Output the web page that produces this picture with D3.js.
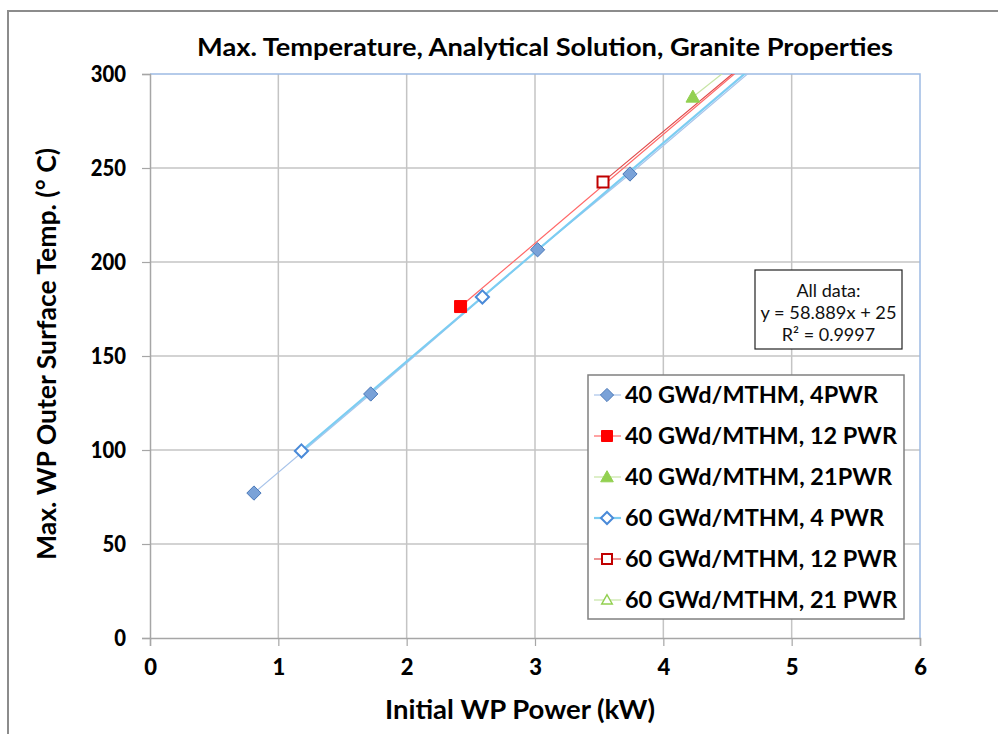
<!DOCTYPE html>
<html><head><meta charset="utf-8">
<script src="https://cdn.jsdelivr.net/npm/d3@7"></script>
<style>
body{margin:0;background:#fff;}
svg{display:block;font-family:Lato,"Open Sans",sans-serif;}
</style></head>
<body><svg id="c" width="998" height="734"></svg>
<script>
// ---- data ----
const title = "Max. Temperature, Analytical Solution, Granite Properties";
const xLabel = "Initial WP Power (kW)";
const yLabel = "Max. WP Outer Surface Temp. (° C)";
const xTicks = [0,1,2,3,4,5,6];
const yTicks = [0,50,100,150,200,250,300];
const seriesNames = ["40 GWd/MTHM, 4PWR","40 GWd/MTHM, 12 PWR","40 GWd/MTHM, 21PWR","60 GWd/MTHM, 4 PWR","60 GWd/MTHM, 12 PWR","60 GWd/MTHM, 21 PWR"];
// points above 300 lie outside the axis range and are clipped, as in the original
const s40_4  = [[0.81,77.1],[1.72,129.8],[3.02,206.5],[3.74,246.8],[5.0,320.0]];
const s40_12 = [[2.42,176.3],[5.0,325.9]];
const s40_21 = [[4.23,287.8],[5.0,329.4]];
const s60_4  = [[1.18,99.5],[2.59,181.4],[5.0,321.4]];
const s60_12 = [[3.53,242.6],[5.0,326.4]];
const s60_21 = [[5.0,331.0],[5.5,358.0]];
const fitText = ["All data:","y = 58.889x + 25","R² = 0.9997"];

// ---- styles ----
const styles = [
  {data:s40_4,  sym:"diamond", fill:"#7aa2d8", stroke:"#4a78b8", line:"#a8c4ea", lw:1.2, size:13},
  {data:s40_12, sym:"square",  fill:"#ff0000", stroke:"#ff0000", line:"#ff6666", lw:1.2, size:12},
  {data:s40_21, sym:"triangle",fill:"#92d050", stroke:"#92d050", line:"#c6e4a4", lw:1.2, size:13},
  {data:s60_4,  sym:"diamond", fill:"#ffffff", stroke:"#4a8ad8", line:"#7ccdf2", lw:2.2, size:12, sw:2},
  {data:s60_12, sym:"square",  fill:"#ffffff", stroke:"#c00000", line:"#e04848", lw:1.2, size:11, sw:2},
  {data:s60_21, sym:"triangle",fill:"#ffffff", stroke:"#92d050", line:"#c6e4a4", lw:1.2, size:11, sw:1.5},
];
const legendW = [253,272,267,259,272,272];

const svg = d3.select("#c");
const x = d3.scaleLinear().domain([0,6]).range([150,920]);
const y = d3.scaleLinear().domain([0,300]).range([638,74]);

function squeezeTo(sel, w){
  sel.attr("textLength", w).attr("lengthAdjust","spacingAndGlyphs");
}

// outer chart border
svg.append("rect").attr("x",8).attr("y",11).attr("width",1100).attr("height",900)
  .attr("fill","none").attr("stroke","#8c8c8c").attr("stroke-width",2);

// gridlines
svg.append("g").selectAll("line").data(xTicks.filter(d=>d>0&&d<6)).join("line")
  .attr("x1",d=>x(d)).attr("x2",d=>x(d)).attr("y1",y(0)).attr("y2",y(300))
  .attr("stroke","#c4c4c4").attr("stroke-width",1.5);
svg.append("g").selectAll("line").data(yTicks.filter(d=>d>0&&d<300)).join("line")
  .attr("y1",d=>y(d)).attr("y2",d=>y(d)).attr("x1",x(0)).attr("x2",x(6))
  .attr("stroke","#c4c4c4").attr("stroke-width",1.5);
// plot border top/right (light blue)
svg.append("path").attr("d",`M${x(0)},${y(300)}H${x(6)}V${y(0)}`)
  .attr("fill","none").attr("stroke","#9dbbe3").attr("stroke-width",1.5);

// axes
const xa = svg.append("g").attr("transform",`translate(0,${y(0)})`)
  .call(d3.axisBottom(x).tickValues(xTicks).tickSize(8).tickPadding(13).tickFormat(d3.format("d")));
const ya = svg.append("g").attr("transform",`translate(${x(0)},0)`)
  .call(d3.axisLeft(y).tickValues(yTicks).tickSize(8).tickPadding(16).tickFormat(d3.format("d")));
[xa,ya].forEach(a=>{
  a.select(".domain").attr("stroke","#a6a6a6").attr("stroke-width",1.5);
  a.selectAll(".tick line").attr("stroke","#a6a6a6").attr("stroke-width",1.2);
  a.selectAll("text").attr("font-family","Lato").attr("font-weight","900").attr("font-size",22).attr("fill","#000");
});
ya.selectAll("text").attr("textLength",function(){return this.getComputedTextLength()*0.92;}).attr("lengthAdjust","spacingAndGlyphs");

// clip
svg.append("clipPath").attr("id","pc").append("rect")
  .attr("x",x(0)).attr("y",y(300)).attr("width",x(6)-x(0)).attr("height",y(0)-y(300));
const plot = svg.append("g").attr("clip-path","url(#pc)");

const line = d3.line().x(d=>x(d[0])).y(d=>y(d[1]));
styles.forEach(s=>{
  plot.append("path").attr("d",line(s.data)).attr("fill","none")
    .attr("stroke",s.line).attr("stroke-width",s.lw);
});

function symPath(sym, size){
  const h=size/2;
  if(sym==="diamond") return `M0,${-h*1.1}L${h*1.1},0L0,${h*1.1}L${-h*1.1},0Z`;
  if(sym==="square") return `M${-h},${-h}H${h}V${h}H${-h}Z`;
  return `M0,${-h*1.05}L${h*1.05},${h*0.8}L${-h*1.05},${h*0.8}Z`;
}
styles.forEach(s=>{
  plot.append("g").selectAll("path").data(s.data).join("path")
    .attr("transform",d=>`translate(${x(d[0])},${y(d[1])})`)
    .attr("d",symPath(s.sym,s.size)).attr("fill",s.fill)
    .attr("stroke",s.stroke).attr("stroke-width",s.sw||1);
});

// title
const t = svg.append("text").attr("x",545).attr("y",56).attr("text-anchor","middle")
  .attr("font-weight","bold").attr("font-size",24).text(title);
squeezeTo(t,696);
// axis labels
const xl = svg.append("text").attr("x",520).attr("y",719).attr("text-anchor","middle")
  .attr("font-weight","bold").attr("font-size",26).text(xLabel);
squeezeTo(xl,270);
const yl = svg.append("text").attr("transform",`translate(56,354) rotate(-90)`).attr("text-anchor","middle")
  .attr("font-weight","bold").attr("font-size",26).text(yLabel);
squeezeTo(yl,412);

// fit box
svg.append("rect").attr("x",755).attr("y",270).attr("width",147).attr("height",79)
  .attr("fill","#fff").attr("stroke","#222").attr("stroke-width",1.2);
svg.append("g").selectAll("text").data(fitText).join("text")
  .attr("x",828.5).attr("y",(d,i)=>297+i*22).attr("text-anchor","middle")
  .attr("font-size",18).attr("fill","#111").text(d=>d)
  .each(function(d,i){ if(i===1) d3.select(this).attr("textLength",136).attr("lengthAdjust","spacingAndGlyphs"); });

// legend
const lg = svg.append("g");
lg.append("rect").attr("x",588).attr("y",375).attr("width",316).attr("height",244)
  .attr("fill","#fff").attr("stroke","#808080").attr("stroke-width",1.5);
styles.forEach((s,i)=>{
  const cy = 395 + i*41;
  lg.append("line").attr("x1",594).attr("x2",621).attr("y1",cy).attr("y2",cy)
    .attr("stroke",s.line).attr("stroke-width",s.lw);
  lg.append("path").attr("transform",`translate(607,${cy})`).attr("d",symPath(s.sym,s.size-1))
    .attr("fill",s.fill).attr("stroke",s.stroke).attr("stroke-width",s.sw||1);
  const tx = lg.append("text").attr("x",625).attr("y",cy+8).attr("font-weight","bold")
    .attr("font-size",23).text(seriesNames[i]);
  squeezeTo(tx,legendW[i]);
});
</script></body></html>
